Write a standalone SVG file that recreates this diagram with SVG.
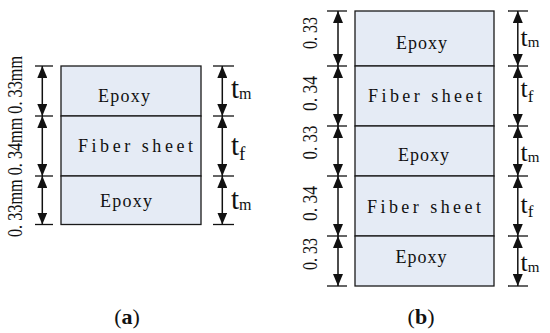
<svg xmlns="http://www.w3.org/2000/svg" width="550" height="333" viewBox="0 0 550 333" font-family="'Liberation Serif', 'Times New Roman', serif">
<style>
.layer{fill:#e5ebf5;stroke:#1a1a1a;stroke-width:1.3}
.tick{stroke:#111;stroke-width:1.3}
.dim{stroke:#111;stroke-width:1.5;fill:none;marker-start:url(#ah);marker-end:url(#ah)}
.lbl{font-family:'Liberation Serif','Times New Roman',serif;font-size:18px;fill:#111}
.val{font-family:'Liberation Serif','Times New Roman',serif;font-size:20px;fill:#111}
.t{font-family:'Liberation Serif','Times New Roman',serif;fill:#111}
.cap{font-family:'Liberation Serif','Times New Roman',serif;font-size:22px;fill:#111}
</style>
<defs>
<marker id="ah" markerUnits="userSpaceOnUse" markerWidth="12" markerHeight="10" refX="12" refY="5" orient="auto-start-reverse">
<path d="M0,0 L12,5 L0,10 z" fill="#111"/>
</marker>
</defs>

<!-- Panel (a) -->
<g id="a-epoxy-top"><rect class="layer" x="61" y="66" width="140" height="50"/><text class="lbl" x="98" y="102" textLength="52" lengthAdjust="spacing">Epoxy</text></g>
<g id="a-fiber"><rect class="layer" x="61" y="116" width="140" height="60"/><text class="lbl" x="78" y="152" textLength="115" lengthAdjust="spacing">Fiber sheet</text></g>
<g id="a-epoxy-bot"><rect class="layer" x="61" y="176" width="140" height="48.5"/><text class="lbl" x="100" y="207" textLength="52" lengthAdjust="spacing">Epoxy</text></g>

<!-- Panel (b) -->
<g id="b-epoxy-1"><rect class="layer" x="355" y="11" width="139" height="55"/><text class="lbl" x="396" y="48.5" textLength="51" lengthAdjust="spacing">Epoxy</text></g>
<g id="b-fiber-1"><rect class="layer" x="355" y="66" width="139" height="60"/><text class="lbl" x="368" y="102" textLength="114" lengthAdjust="spacing">Fiber sheet</text></g>
<g id="b-epoxy-2"><rect class="layer" x="355" y="126" width="139" height="50"/><text class="lbl" x="398" y="160.5" textLength="51" lengthAdjust="spacing">Epoxy</text></g>
<g id="b-fiber-2"><rect class="layer" x="355" y="176" width="139" height="60"/><text class="lbl" x="367" y="212.5" textLength="114" lengthAdjust="spacing">Fiber sheet</text></g>
<g id="b-epoxy-3"><rect class="layer" x="355" y="236" width="139" height="50"/><text class="lbl" x="395.5" y="262.5" textLength="51" lengthAdjust="spacing">Epoxy</text></g>

<g id="connectors">
<!-- (a) left -->
<line class="tick" x1="35" y1="66" x2="53" y2="66"/>
<line class="tick" x1="35" y1="116" x2="53" y2="116"/>
<line class="tick" x1="35" y1="176" x2="53" y2="176"/>
<line class="tick" x1="35" y1="224.5" x2="53" y2="224.5"/>
<line class="dim" x1="42.3" y1="66" x2="42.3" y2="116"/>
<line class="dim" x1="42.3" y1="116" x2="42.3" y2="176"/>
<line class="dim" x1="42.3" y1="176" x2="42.3" y2="224.5"/>
<!-- (a) right -->
<line class="tick" x1="213" y1="66" x2="234" y2="66"/>
<line class="tick" x1="213" y1="116" x2="234" y2="116"/>
<line class="tick" x1="213" y1="176" x2="234" y2="176"/>
<line class="tick" x1="213" y1="224.5" x2="234" y2="224.5"/>
<line class="dim" x1="222.3" y1="66" x2="222.3" y2="116"/>
<line class="dim" x1="222.3" y1="116" x2="222.3" y2="176"/>
<line class="dim" x1="222.3" y1="176" x2="222.3" y2="224.5"/>
<!-- (b) left -->
<line class="tick" x1="327" y1="11" x2="347" y2="11"/>
<line class="tick" x1="327" y1="66" x2="347" y2="66"/>
<line class="tick" x1="327" y1="126" x2="347" y2="126"/>
<line class="tick" x1="327" y1="176" x2="347" y2="176"/>
<line class="tick" x1="327" y1="236" x2="347" y2="236"/>
<line class="tick" x1="327" y1="286" x2="347" y2="286"/>
<line class="dim" x1="338" y1="11" x2="338" y2="66"/>
<line class="dim" x1="338" y1="66" x2="338" y2="126"/>
<line class="dim" x1="338" y1="126" x2="338" y2="176"/>
<line class="dim" x1="338" y1="176" x2="338" y2="236"/>
<line class="dim" x1="338" y1="236" x2="338" y2="286"/>
<!-- (b) right -->
<line class="tick" x1="508" y1="11" x2="528" y2="11"/>
<line class="tick" x1="508" y1="66" x2="528" y2="66"/>
<line class="tick" x1="508" y1="126" x2="528" y2="126"/>
<line class="tick" x1="508" y1="176" x2="528" y2="176"/>
<line class="tick" x1="508" y1="236" x2="528" y2="236"/>
<line class="tick" x1="508" y1="286" x2="528" y2="286"/>
<line class="dim" x1="517.8" y1="11" x2="517.8" y2="66"/>
<line class="dim" x1="517.8" y1="66" x2="517.8" y2="126"/>
<line class="dim" x1="517.8" y1="126" x2="517.8" y2="176"/>
<line class="dim" x1="517.8" y1="176" x2="517.8" y2="236"/>
<line class="dim" x1="517.8" y1="236" x2="517.8" y2="286"/>
</g>

<!-- (a) dimension values -->
<text class="val" transform="translate(21.5,146.5) rotate(-90)" text-anchor="middle" textLength="181" lengthAdjust="spacingAndGlyphs">0. 33mm 0. 34mm 0. 33mm</text>
<!-- (b) dimension values -->
<text class="val" transform="translate(317,33) rotate(-90)" text-anchor="middle" textLength="32" lengthAdjust="spacingAndGlyphs">0. 33</text>
<text class="val" transform="translate(317,93.5) rotate(-90)" text-anchor="middle" textLength="35" lengthAdjust="spacingAndGlyphs">0. 34</text>
<text class="val" transform="translate(317,142.5) rotate(-90)" text-anchor="middle" textLength="34" lengthAdjust="spacingAndGlyphs">0. 33</text>
<text class="val" transform="translate(317,203.5) rotate(-90)" text-anchor="middle" textLength="35" lengthAdjust="spacingAndGlyphs">0. 34</text>
<text class="val" transform="translate(317,254) rotate(-90)" text-anchor="middle" textLength="32" lengthAdjust="spacingAndGlyphs">0. 33</text>

<!-- (a) thickness symbols -->
<text class="t" x="231" y="98" font-size="29">t<tspan font-size="16" dy="1">m</tspan></text>
<text class="t" x="231" y="155" font-size="29">t<tspan font-size="19" dy="5">f</tspan></text>
<text class="t" x="231" y="208.5" font-size="29">t<tspan font-size="16" dy="1">m</tspan></text>
<!-- (b) thickness symbols -->
<text class="t" x="520.5" y="45.5" font-size="26">t<tspan font-size="15" dy="1.5">m</tspan></text>
<text class="t" x="520.5" y="97" font-size="26">t<tspan font-size="17" dy="5">f</tspan></text>
<text class="t" x="520.5" y="160.5" font-size="26">t<tspan font-size="15" dy="1.5">m</tspan></text>
<text class="t" x="520.5" y="213" font-size="26">t<tspan font-size="17" dy="4">f</tspan></text>
<text class="t" x="520.5" y="270.5" font-size="26">t<tspan font-size="15" dy="1.5">m</tspan></text>

<!-- captions -->
<text class="cap" x="127" y="324" text-anchor="middle">(<tspan font-weight="bold">a</tspan>)</text>
<text class="cap" x="421" y="324" text-anchor="middle">(<tspan font-weight="bold">b</tspan>)</text>
</svg>
